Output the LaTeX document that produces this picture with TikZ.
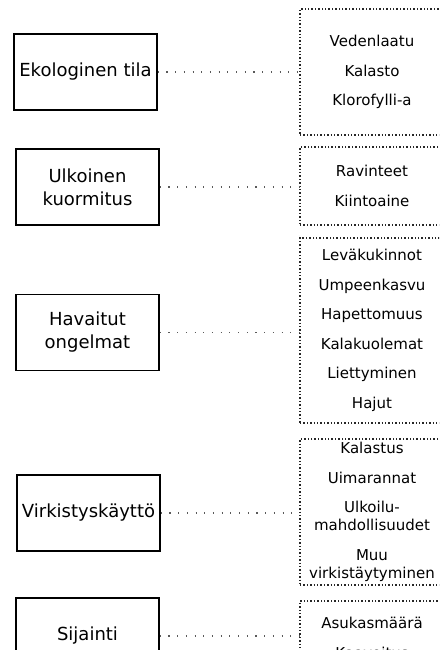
\documentclass[tikz,border=0pt]{standalone}
\usepackage{fontspec}
\setmainfont{DejaVu Sans}

\tikzset{
  topic/.style={draw, line width=1.5pt, minimum width=143pt, minimum height=76pt,
    inner sep=2pt, align=center, font=\fontsize{18}{23}\selectfont},
  itemlist/.style={draw=black!85, line width=1.4pt, dash pattern=on 1.4pt off 2pt,
    minimum width=144pt, inner sep=2pt, align=center, font=\fontsize{15}{18}\selectfont},
  link/.style={draw=black!65, line width=1.1pt, dash pattern=on 1.1pt off 7.6pt}
}
\newcommand{\itemgap}{\\[11.5pt]}

\begin{document}
\begin{tikzpicture}[x=1pt, y=-1pt]
	\path[use as bounding box, clip] (0,0) rectangle (439,650);
	% left: the topics
	\node[topic] (ekol) at (85.5,72) {Ekologinen tila};
	\node[topic] (kuorm) at (87.5,187) {Ulkoinen\\kuormitus};
	\node[topic] (ongel) at (87.5,332.5) {Havaitut\\ongelmat};
	\node[topic] (virk) at (88.5,513) {Virkistyskäyttö};
	\node[topic] (sijai) at (87.5,636) {Sijainti};
	% right: what belongs to each topic
	\node[itemlist, minimum height=126pt] (ekolList) at (372,72)
		{Vedenlaatu\itemgap Kalasto\itemgap Klorofylli-a};
	\node[itemlist, minimum height=78pt] (kuormList) at (372,186)
		{Ravinteet\itemgap Kiintoaine};
	\node[itemlist, minimum height=185pt] (ongelList) at (372,330.5)
		{Leväkukinnot\itemgap Umpeenkasvu\itemgap Hapettomuus\itemgap Kalakuolemat\itemgap Liettyminen\itemgap Hajut};
	\node[itemlist, minimum height=146pt] (virkList) at (372,512)
		{Kalastus\itemgap Uimarannat\itemgap Ulkoilu-\\mahdollisuudet\itemgap Muu\\virkistäytyminen};
	\node[itemlist, minimum height=74pt] (sijaiList) at (372,638)
		{Asukasmäärä\itemgap Kaavoitus};
	% dotted links
	\draw[link] (ekol.east) -- (ekol.east -| ekolList.west);
	\draw[link] (kuorm.east) -- (kuorm.east -| kuormList.west);
	\draw[link] (ongel.east) -- (ongel.east -| ongelList.west);
	\draw[link] (virk.east) -- (virk.east -| virkList.west);
	\draw[link] (sijai.east) -- (sijai.east -| sijaiList.west);
\end{tikzpicture}
\end{document}
